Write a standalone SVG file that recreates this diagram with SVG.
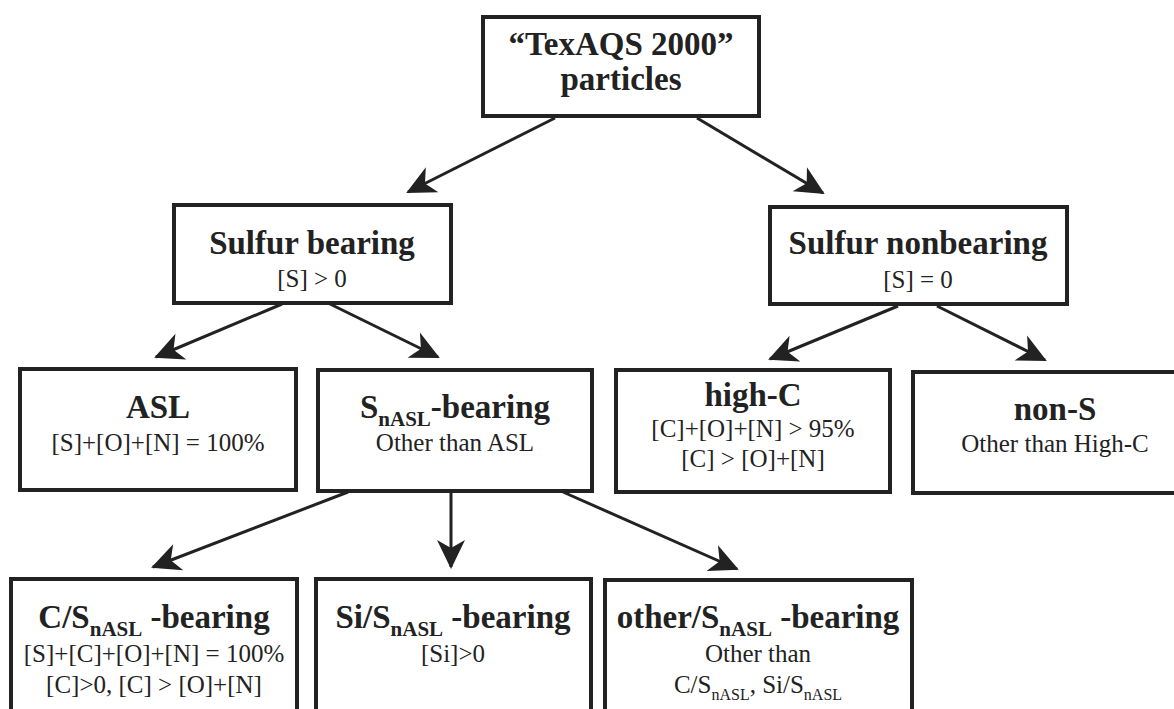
<svg xmlns="http://www.w3.org/2000/svg" width="1174" height="709" viewBox="0 0 1174 709">
<defs>
<style>
.box{fill:#fff;stroke:#222;stroke-width:4}
.t{font-family:"Liberation Serif","Times New Roman",serif;fill:#222;text-anchor:middle}
.b{font-weight:bold;font-size:33px}
.r{font-size:25px}
.sb{font-size:21px}
.sr{font-size:16px}
.edge{stroke:#222;stroke-width:3;fill:none;marker-end:url(#ah)}
</style>
<marker id="ah" viewBox="-30 -16 34 32" refX="0" refY="0" markerWidth="34" markerHeight="32" markerUnits="userSpaceOnUse" orient="auto">
<path d="M2,0 L-27,-14 L-19,0 L-27,14 Z" fill="#222"/>
</marker>
</defs>
<rect width="1174" height="709" fill="#fff"/>
<g id="connectors">
<path class="edge" d="M555,118 L408,192"/>
<path class="edge" d="M697,118 L823,193"/>
<path class="edge" d="M282,304 L156,357"/>
<path class="edge" d="M330,304 L438,357"/>
<path class="edge" d="M898,306 L770,359"/>
<path class="edge" d="M937,306 L1045,360"/>
<path class="edge" d="M348,492 L153,567"/>
<path class="edge" d="M451,492 L451,567"/>
<path class="edge" d="M563,492 L737,569"/>
</g>
<g id="root">
<rect class="box" x="483" y="17" width="276" height="99"/>
<text class="t b" x="621" y="55">“TexAQS 2000”</text>
<text class="t b" x="621" y="90">particles</text>
</g>
<g id="sulfur-bearing">
<rect class="box" x="174" y="205" width="277" height="98"/>
<text class="t b" x="312" y="254">Sulfur bearing</text>
<text class="t r" x="312" y="287">[S] &gt; 0</text>
</g>
<g id="sulfur-nonbearing">
<rect class="box" x="770" y="207" width="297" height="97"/>
<text class="t b" x="918" y="254">Sulfur nonbearing</text>
<text class="t r" x="918" y="288">[S] = 0</text>
</g>
<g id="asl">
<rect class="box" x="20" y="369" width="276" height="121"/>
<text class="t b" x="158" y="418">ASL</text>
<text class="t r" x="158" y="451">[S]+[O]+[N] = 100%</text>
</g>
<g id="snasl-bearing">
<rect class="box" x="318" y="370" width="274" height="121"/>
<text class="t b" x="455" y="418">S<tspan class="sb" dy="8">nASL</tspan><tspan dy="-8">-bearing</tspan></text>
<text class="t r" x="455" y="451">Other than ASL</text>
</g>
<g id="high-c">
<rect class="box" x="616" y="370" width="274" height="122"/>
<text class="t b" x="753" y="406">high-C</text>
<text class="t r" x="753" y="437">[C]+[O]+[N] &gt; 95%</text>
<text class="t r" x="753" y="467">[C] &gt; [O]+[N]</text>
</g>
<g id="non-s">
<rect class="box" x="913" y="372" width="285" height="121"/>
<text class="t b" x="1055" y="420">non-S</text>
<text class="t r" x="1055" y="452">Other than High-C</text>
</g>
<g id="c-snasl">
<rect class="box" x="11" y="579" width="286" height="145"/>
<text class="t b" x="154" y="628">C/S<tspan class="sb" dy="8">nASL</tspan><tspan dy="-8"> -bearing</tspan></text>
<text class="t r" x="154" y="662">[S]+[C]+[O]+[N] = 100%</text>
<text class="t r" x="154" y="693">[C]&gt;0, [C] &gt; [O]+[N]</text>
</g>
<g id="si-snasl">
<rect class="box" x="316" y="579" width="275" height="145"/>
<text class="t b" x="453" y="628">Si/S<tspan class="sb" dy="8">nASL</tspan><tspan dy="-8"> -bearing</tspan></text>
<text class="t r" x="453" y="662">[Si]&gt;0</text>
</g>
<g id="other-snasl">
<rect class="box" x="605" y="580" width="307" height="144"/>
<text class="t b" x="758" y="628">other/S<tspan class="sb" dy="8">nASL</tspan><tspan dy="-8"> -bearing</tspan></text>
<text class="t r" x="758" y="662">Other than</text>
<text class="t r" x="758" y="693">C/S<tspan class="sr" dy="7">nASL</tspan><tspan dy="-7">, Si/S</tspan><tspan class="sr" dy="7">nASL</tspan></text>
</g>
</svg>
